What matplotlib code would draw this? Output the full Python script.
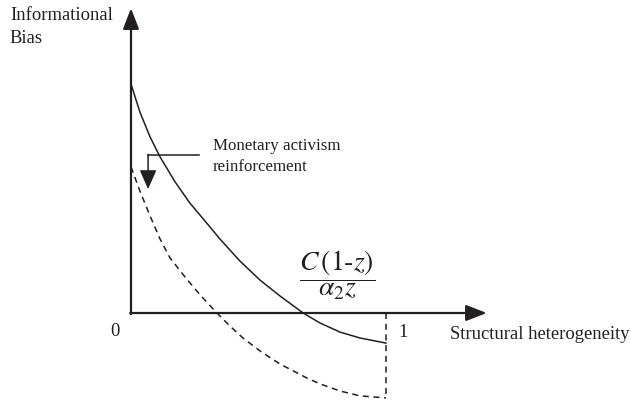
import numpy as np
import matplotlib
matplotlib.use("Agg")
import matplotlib.pyplot as plt

# values (x: 0..1 heterogeneity, y: bias in same units)
z_solid = [0.0, 0.035, 0.075, 0.114, 0.173, 0.231, 0.290, 0.349, 0.427,
           0.506, 0.584, 0.675, 0.741, 0.820, 0.898, 1.0]
bias_solid = [0.898, 0.788, 0.690, 0.612, 0.514, 0.431, 0.361, 0.290, 0.204,
              0.129, 0.067, 0.0, -0.039, -0.075, -0.098, -0.118]

z_dashed = [0.0, 0.035, 0.075, 0.114, 0.153, 0.212, 0.271, 0.337, 0.388,
            0.439, 0.506, 0.584, 0.690, 0.741, 0.820, 0.898, 1.0]
bias_dashed = [0.573, 0.478, 0.380, 0.290, 0.216, 0.141, 0.071, 0.0, -0.051,
               -0.098, -0.149, -0.200, -0.255, -0.278, -0.306, -0.325, -0.333]

x_ticks = [0, 1]
x_tick_labels = ["0", "1"]
y_label = "Informational\nBias"
x_label = "Structural heterogeneity"
shift_label = "Monetary activism\nreinforcement"

INK = "#231f20"
SERIF = ["Liberation Serif", "DejaVu Serif"]
plt.rcParams["mathtext.fontset"] = "stix"

fig = plt.figure(figsize=(6.31, 4.02), dpi=100)
ax = fig.add_axes([0, 0, 1, 1])
ax.set_xlim(-0.5137, 1.9608)
ax.set_ylim(-0.3451, 1.2314)
ax.axis("off")

# axes with arrow heads
arrow_kw = dict(arrowstyle="-|>,head_length=0.9,head_width=0.35", color=INK,
                lw=1.6, shrinkA=0, shrinkB=0, mutation_scale=14)
ax.annotate("", xy=(0, 1.195), xytext=(0, -0.005), arrowprops=arrow_kw)
ax.annotate("", xy=(1.395, 0), xytext=(-0.003, 0), arrowprops=arrow_kw)

# curves
ax.plot(z_solid, bias_solid, color=INK, lw=1.1)
ax.plot(z_dashed, bias_dashed, color=INK, lw=1.1, ls=(0, (4, 3)))
ax.plot([x_ticks[1], x_ticks[1]], [0, bias_dashed[-1]], color=INK, lw=1.1,
        ls=(0, (4, 3)))

# shift arrow
ax.plot([0.267, 0.067], [0.620, 0.620], color=INK, lw=1.1)
ax.annotate("", xy=(0.067, 0.486), xytext=(0.067, 0.622),
            arrowprops=dict(arrowstyle="-|>,head_length=0.9,head_width=0.4",
                            color=INK, lw=1.1, shrinkA=0, shrinkB=0,
                            mutation_scale=13))
ax.text(0.322, 0.618, shift_label, fontsize=12.2, family=SERIF, color=INK,
        ha="left", va="center", linespacing=1.4)

# labels
ax.text(-0.475, 1.205, y_label, fontsize=13.4, family=SERIF, color=INK,
        ha="left", va="top", linespacing=1.45)
ax.text(1.251, -0.082, x_label, fontsize=13.4, family=SERIF, color=INK,
        ha="left", va="center")
ax.text(-0.063, -0.07, x_tick_labels[0], fontsize=13.4, family=SERIF,
        color=INK, ha="center", va="center")
ax.text(1.067, -0.074, x_tick_labels[1], fontsize=13.4, family=SERIF,
        color=INK, ha="center", va="center")

# curve formula
ax.text(0.81, 0.15, r"$\dfrac{C\,(1\text{-}z)}{\alpha_{2}z}$", fontsize=20,
        color=INK, ha="center", va="center")

fig.savefig("out.png", dpi=100)
